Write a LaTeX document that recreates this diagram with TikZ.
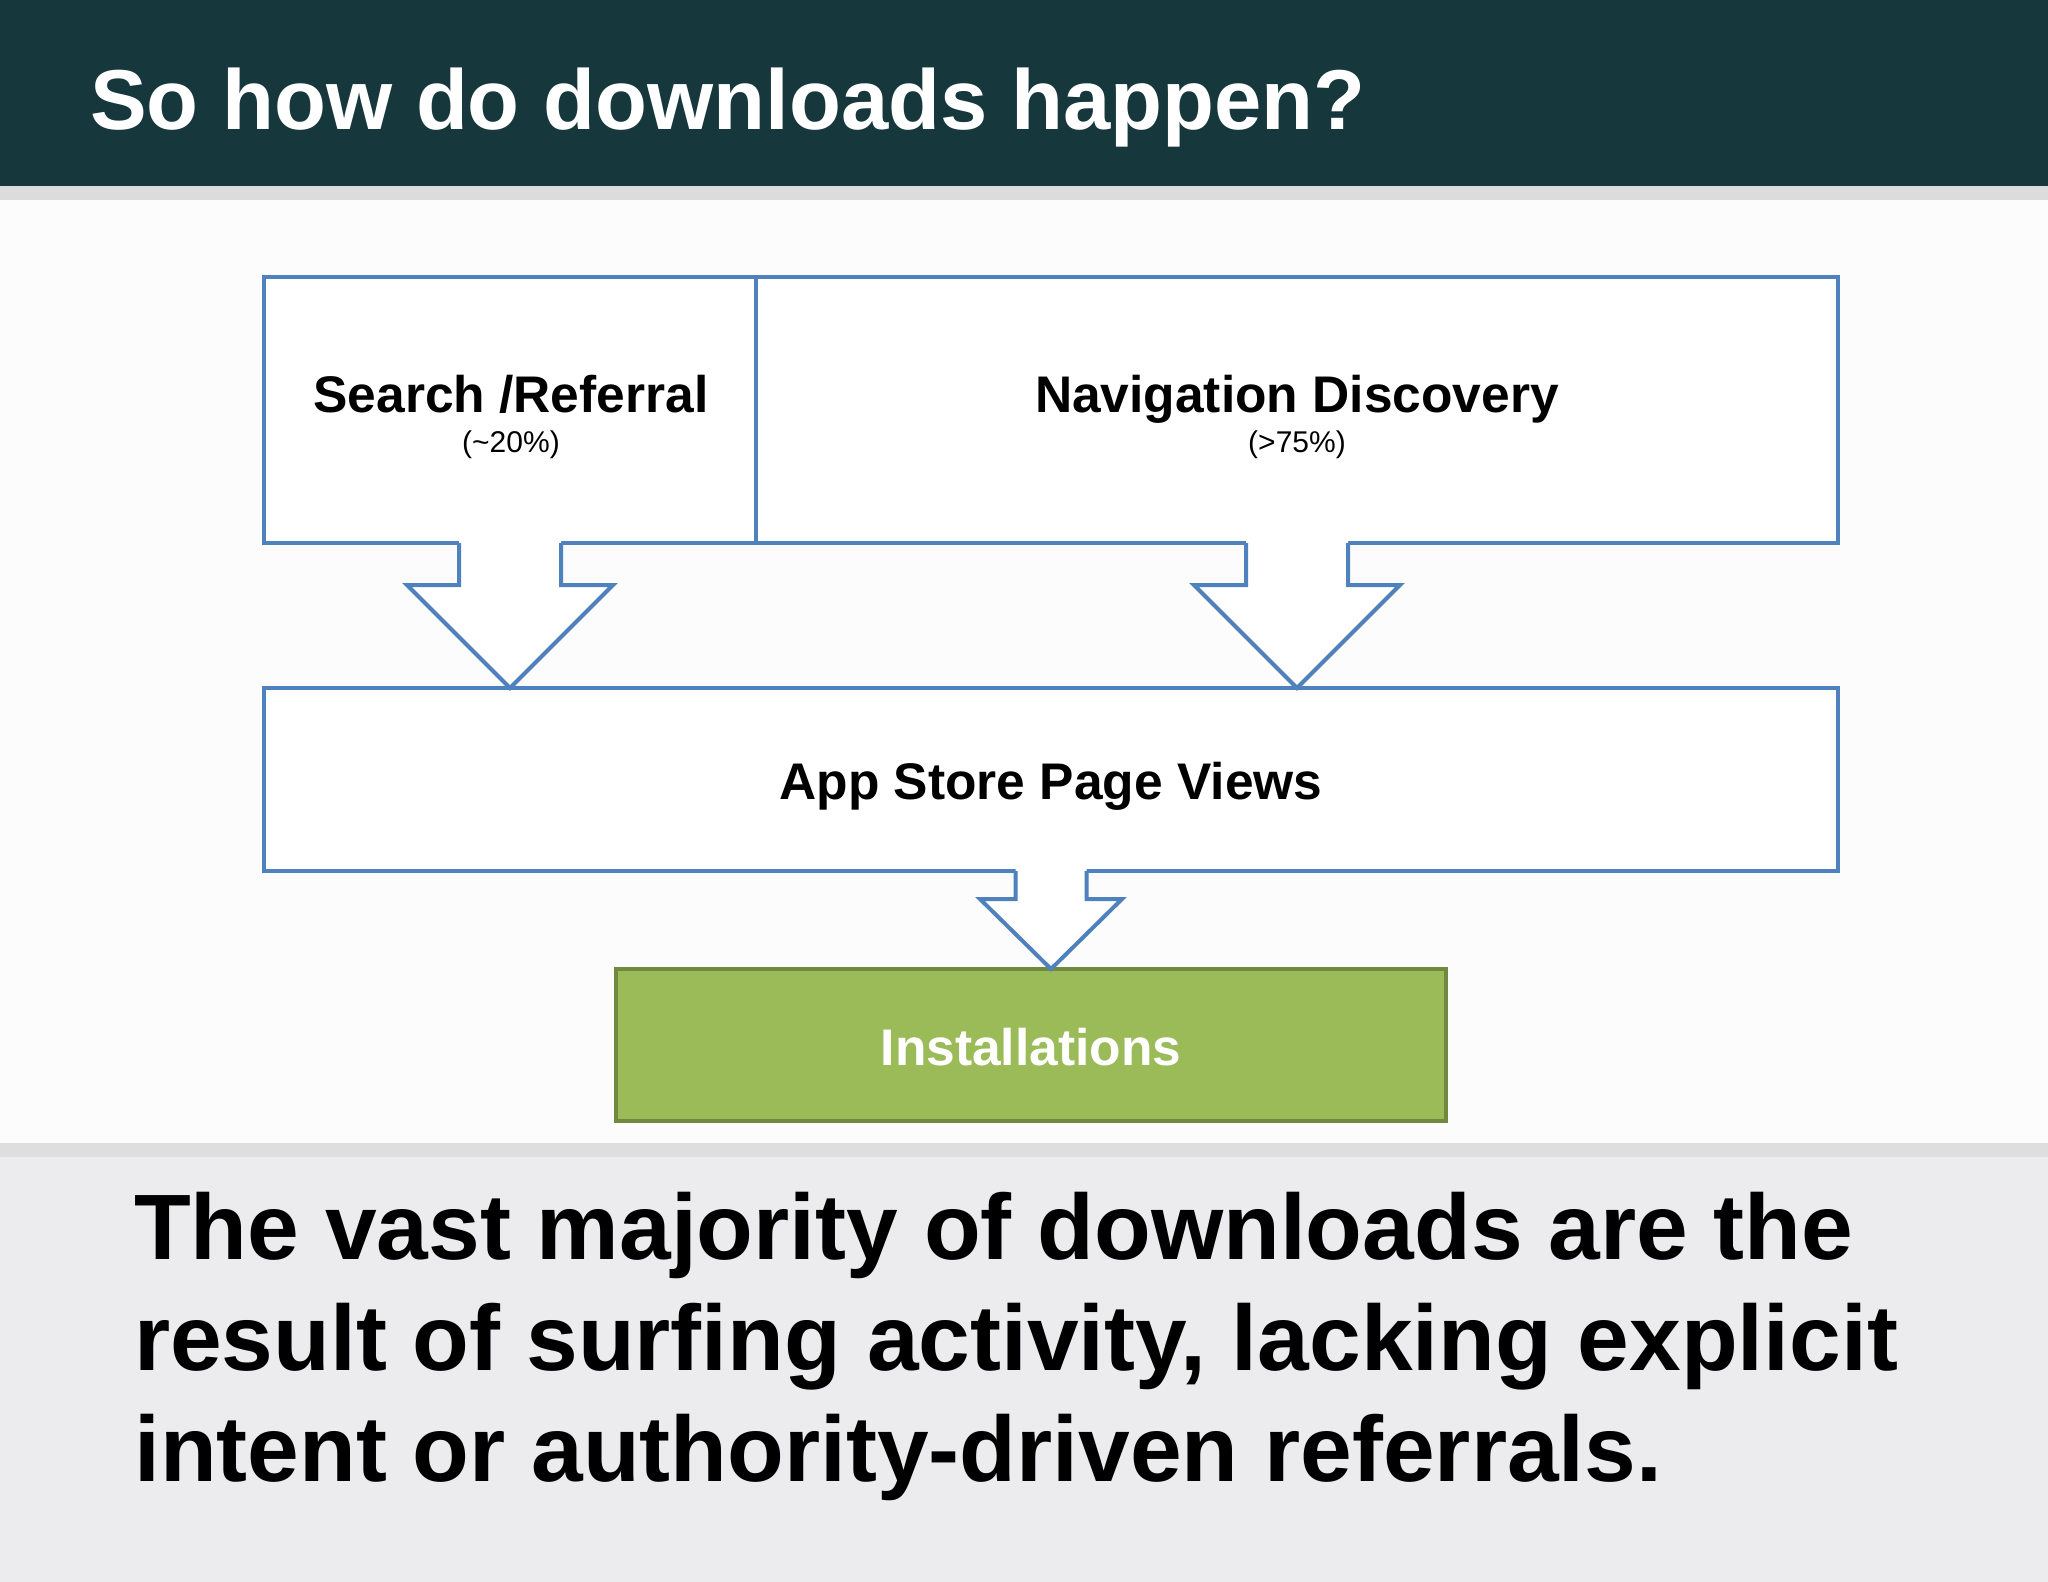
\documentclass[tikz,border=0pt]{standalone}
\usepackage{fontspec}
\setmainfont{Liberation Sans}
\usepackage{tikz}
\usetikzlibrary{calc}

\definecolor{headbg}{HTML}{16373C}
\definecolor{stripgray}{HTML}{DCDCDC}
\definecolor{panelgray}{HTML}{ECEBED}
\definecolor{paneledge}{HTML}{DEDEDE}
\definecolor{flowblue}{HTML}{4F81BD}
\definecolor{installgreen}{HTML}{9BBB59}
\definecolor{installedge}{HTML}{71893F}

\tikzstyle{flowbox}=[rectangle, draw=flowblue, line width=4pt, fill=white, outer sep=0pt, inner sep=0pt]
\tikzstyle{installbox}=[rectangle, draw=installedge, line width=4pt, fill=installgreen, outer sep=0pt, inner sep=0pt]
\tikzstyle{boxlabel}=[font=\fontsize{51.5}{60}\selectfont\bfseries, inner sep=0pt, anchor=base]
\tikzstyle{sharelabel}=[font=\fontsize{30}{36}\selectfont, inner sep=0pt, anchor=base]
\tikzstyle{flowline}=[draw=flowblue, line width=4pt]

% block arrow: from, to, half shaft, half head, head drop
\newcommand{\blockarrow}[5]{%
  \fill[white] ([xshift=-#3pt,yshift=3pt]#1.south) -- ([xshift=-#3pt,yshift=-#5pt]#1.south)
    -- ([xshift=-#4pt,yshift=-#5pt]#1.south) -- (#1.south |- #2.north)
    -- ([xshift=#4pt,yshift=-#5pt]#1.south) -- ([xshift=#3pt,yshift=-#5pt]#1.south)
    -- ([xshift=#3pt,yshift=3pt]#1.south) -- cycle;
  \draw[flowline] ([xshift=-#3pt]#1.south) -- ([xshift=-#3pt,yshift=-#5pt]#1.south)
    -- ([xshift=-#4pt,yshift=-#5pt]#1.south) -- (#1.south |- #2.north)
    -- ([xshift=#4pt,yshift=-#5pt]#1.south) -- ([xshift=#3pt,yshift=-#5pt]#1.south)
    -- ([xshift=#3pt]#1.south);
}

\begin{document}
\begin{tikzpicture}[x=1pt,y=-1pt]
  \useasboundingbox (0,0) rectangle (2048,1582);
  \fill[white!99!black] (0,0) rectangle (2048,1582);
  % header
  \fill[headbg] (0,0) rectangle (2048,186);
  \fill[stripgray] (0,186) rectangle (2048,200);
  \node[font=\fontsize{85}{100}\selectfont\bfseries, text=white, inner sep=0pt, anchor=base west] (title) at (90,129) {So how do downloads happen?};

  % boxes
  \node[flowbox, minimum width=492pt, minimum height=266pt] (search) at (510,410) {};
  \node[flowbox, minimum width=1082pt, minimum height=266pt] (navigation) at (1297,410) {};
  \node[flowbox, minimum width=1574pt, minimum height=183pt] (pageviews) at (1051,779.5) {};
  \node[installbox, minimum width=830pt, minimum height=152pt] (install) at (1031,1045) {};

  \node[boxlabel] (searchlbl) at (511,412) {Search /Referral};
  \node[sharelabel] (searchshare) at (511,452) {(\textasciitilde20\%)};
  \node[boxlabel] (navlbl) at (1297,412) {Navigation Discovery};
  \node[sharelabel] (navshare) at (1297,452) {(>75\%)};
  \node[boxlabel] (pagelbl) at (1051,799) {App Store Page Views};
  \node[boxlabel, text=white] (installlbl) at (1031,1065) {Installations};

  % arrows
  \blockarrow{search}{pageviews}{51}{103}{42}
  \blockarrow{navigation}{pageviews}{51}{103}{42}
  \blockarrow{pageviews}{install}{35.5}{71}{28}

  % bottom panel
  \fill[paneledge] (0,1143) rectangle (2048,1157);
  \fill[panelgray] (0,1157) rectangle (2048,1582);
  \node[font=\fontsize{92.9}{111}\selectfont\bfseries, align=left, inner sep=0pt, anchor=base west] (summary) at (134,1481)
    {The vast majority of downloads are the\\result of surfing activity, lacking explicit\\intent or authority-driven referrals.};
\end{tikzpicture}
\end{document}
